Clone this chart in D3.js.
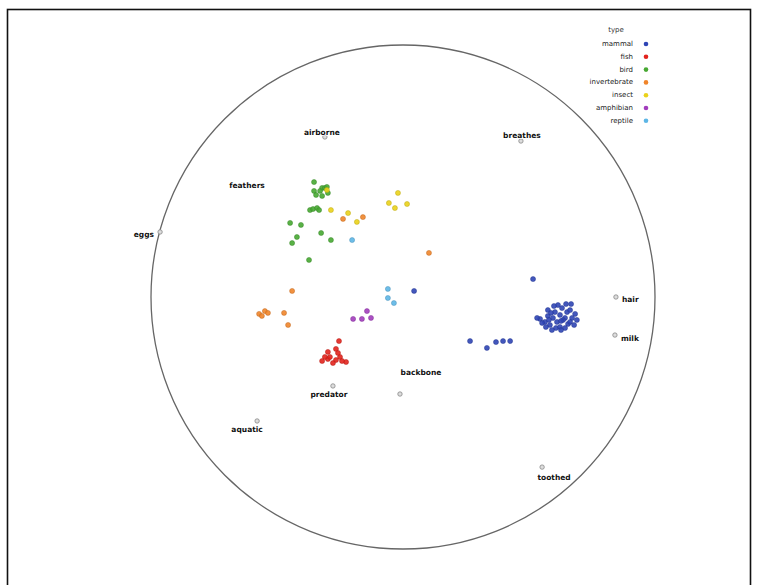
<!DOCTYPE html>
<html>
<head>
<meta charset="utf-8">
<script src="https://cdn.jsdelivr.net/npm/d3@7"></script>
<style>
  html, body { margin: 0; padding: 0; background: #fff; }
  svg { display: block; font-family: "DejaVu Sans", sans-serif; }
</style>
</head>
<body>
<svg id="chart" width="759" height="585"></svg>
<script>
// RadViz-style projection of the zoo data: anchors + animals coloured by type.
// Coordinates are in projection units, circle radius = 100.

const TYPES = ['mammal', 'fish', 'bird', 'invertebrate', 'insect', 'amphibian', 'reptile'];
const TYPE_COLORS = ['#2f45b5', '#e2231d', '#47a832', '#f0852a', '#ead21a', '#a23dbd', '#5db6e6'];

const ANCHOR_NAMES = ['airborne', 'breathes', 'feathers', 'eggs', 'hair', 'milk', 'predator', 'aquatic', 'toothed', 'backbone'];
const ANCHOR_U = [-31.0, 46.8, -61.9, -96.4, 84.5, 84.1, -27.8, -57.9, 55.2, -1.2];
const ANCHOR_V = [63.5, 61.9, 44.0, 25.8, 0.0, -15.1, -35.3, -49.2, -67.5, -38.5];

const mammalU = [54.4, 56.3, 57.5, 58.3, 59.5, 60.3, 61.1, 62.3, 63.1, 64.3, 65.1, 65.5, 66.3, 67.1, 68.3, 69.0, 60.7, 59.1, 62.3, 64.3, 57.5, 63.5, 61.5, 59.9, 66.3, 67.9, 56.7, 55.2, 64.7, 58.7, 62.7, 66.7, 53.2, 62.7, 57.9, 51.6, 26.6, 33.3, 36.9, 39.7, 42.5, 4.4];
const mammalV = [-8.7, -9.9, -7.5, -11.1, -8.3, -6.0, -9.9, -7.1, -4.4, -8.3, -6.0, -10.7, -5.2, -8.3, -6.7, -9.1, -12.3, -13.1, -11.9, -12.3, -5.2, -9.1, -3.2, -3.6, -9.9, -11.1, -11.9, -10.3, -2.8, -6.3, -13.1, -2.8, -8.3, -9.5, -9.1, 7.1, -17.5, -20.2, -17.9, -17.5, -17.5, 2.4];

const fishU = [-25.4, -26.6, -29.8, -32.1, -29.8, -26.6, -25.0, -22.6, -27.8, -29.0, -25.8, -31.0, -24.2];
const fishV = [-17.5, -20.6, -21.8, -25.4, -24.6, -25.0, -23.8, -25.8, -26.2, -23.8, -22.2, -23.8, -25.4];

const birdU = [-35.3, -35.3, -32.1, -31.0, -29.8, -30.2, -32.9, -36.9, -35.7, -34.1, -44.8, -40.5, -42.1, -44.0, -32.5, -28.6, -37.3, -34.5, -32.1, -33.3];
const birdV = [45.6, 42.1, 43.3, 43.3, 41.3, 43.7, 42.1, 34.5, 34.9, 35.3, 29.4, 28.6, 23.8, 21.4, 25.4, 22.6, 14.7, 40.5, 40.1, 34.5];

const invertU = [-44.0, -57.1, -54.8, -53.6, -47.2, -45.6, -56.0, -15.9, -23.8, 10.3];
const invertV = [2.4, -6.7, -5.6, -6.3, -6.3, -11.1, -7.5, 31.7, 31.0, 17.5];

const insectU = [-2.0, -5.6, -3.2, 1.6, -21.8, -18.3, -28.6, -30.2];
const insectV = [41.3, 37.3, 35.3, 36.9, 33.3, 29.8, 34.5, 42.5];

const amphU = [-19.8, -16.3, -14.3, -12.7];
const amphV = [-8.7, -8.7, -5.6, -8.3];

const reptU = [-6.0, -6.0, -3.6, -20.2];
const reptV = [3.2, -0.4, -2.4, 22.6];

// label placement relative to each anchor marker: [dx, dy, text-anchor]
const LABEL_POS = [[-3, -4, 'middle'], [1, -5, 'middle'], [0, 0, 'middle'], [-6, 3, 'end'],
                   [6, 3, 'start'], [6, 4, 'start'], [-4, 9, 'middle'], [-10, 9, 'middle'],
                   [12, 11, 'middle'], [21, -21, 'middle']];

const SERIES = [
  ['mammal', mammalU, mammalV],
  ['fish', fishU, fishV],
  ['bird', birdU, birdV],
  ['invertebrate', invertU, invertV],
  ['insect', insectU, insectV],
  ['amphibian', amphU, amphV],
  ['reptile', reptU, reptV]
];

const svg = d3.select('#chart');
const CX = 403, CY = 297, R = 252;

const x = d3.scaleLinear().domain([-100, 100]).range([CX - R, CX + R]);
const y = d3.scaleLinear().domain([-100, 100]).range([CY + R, CY - R]);
const color = d3.scaleOrdinal().domain(TYPES).range(TYPE_COLORS);

// outer frame
svg.append('rect').attr('x', 7.5).attr('y', 9.5).attr('width', 743).attr('height', 620)
  .attr('fill', 'none').attr('stroke', '#111').attr('stroke-width', 1.6);

// projection circle
svg.append('circle').attr('cx', x(0)).attr('cy', y(0)).attr('r', x(100) - x(0))
  .attr('fill', 'none').attr('stroke', '#666').attr('stroke-width', 1.3);

// data points
const pts = SERIES.flatMap(([type, us, vs]) => us.map((u, i) => ({ type, u, v: vs[i] })));
svg.append('g').selectAll('circle').data(pts).join('circle')
  .attr('cx', d => x(d.u)).attr('cy', d => y(d.v)).attr('r', 2.5)
  .attr('fill', d => color(d.type))
  .attr('stroke', d => d3.color(color(d.type)).darker(0.6))
  .attr('stroke-width', 0.5).attr('fill-opacity', 0.9);

// anchors (marker first, label drawn on top)
const anchors = ANCHOR_NAMES.map((name, i) => ({ name, u: ANCHOR_U[i], v: ANCHOR_V[i], lp: LABEL_POS[i] }));
const ag = svg.append('g');
ag.selectAll('circle').data(anchors).join('circle')
  .attr('cx', d => x(d.u)).attr('cy', d => y(d.v)).attr('r', 2.2)
  .attr('fill', '#ddd').attr('stroke', '#888').attr('stroke-width', 0.8);
ag.selectAll('text').data(anchors).join('text')
  .attr('x', d => x(d.u) + d.lp[0]).attr('y', d => y(d.v) + d.lp[1])
  .attr('text-anchor', d => d.lp[2]).attr('dominant-baseline', 'middle')
  .attr('fill', '#111').style('font-size', '7.5px').style('font-weight', 'bold')
  .style('paint-order', 'stroke').attr('stroke', '#fff').attr('stroke-width', 1.5)
  .text(d => d.name);

// legend
const lg = svg.append('g').attr('transform', 'translate(633,30)');
lg.append('text').attr('x', -17).attr('y', 0).attr('text-anchor', 'middle')
  .attr('dominant-baseline', 'middle').attr('fill', '#333').style('font-size', '7px').text('type');
const items = lg.selectAll('g.item').data(TYPES).join('g').attr('class', 'item')
  .attr('transform', (d, i) => `translate(0,${14 + i * 12.8})`);
items.append('text').attr('text-anchor', 'end').attr('dominant-baseline', 'middle')
  .attr('fill', '#222').style('font-size', '7px').text(d => d);
items.append('circle').attr('cx', 13).attr('cy', 0).attr('r', 2.3).attr('fill', d => color(d));
</script>
</body>
</html>
